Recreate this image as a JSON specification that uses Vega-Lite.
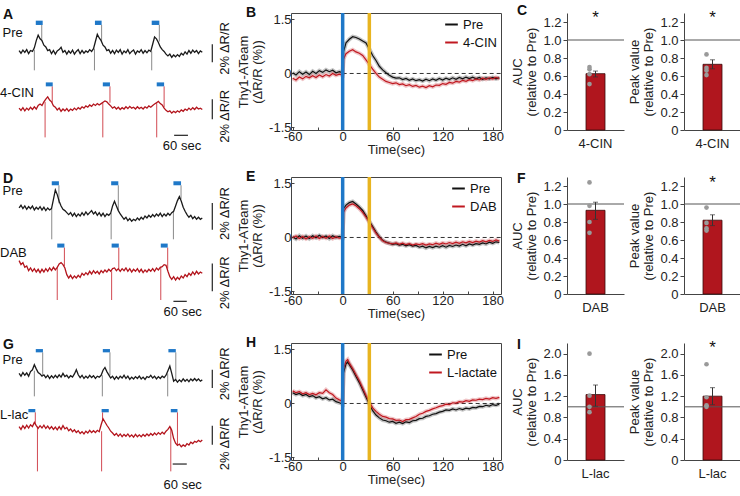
{
"$schema":"https://vega.github.io/schema/vega-lite/v6.json",
"background":"white",
"padding":{"left":0,"top":3,"right":0,"bottom":0},
"config":{
 "font":"Liberation Sans",
 "view":{"stroke":null},
 "axis":{"labelFont":"Liberation Sans","labelFontSize":13,"labelColor":"#222","titleFont":"Liberation Sans","titleFontSize":13,"titleFontWeight":"normal","titleColor":"#222","domainColor":"#444","tickColor":"#444","grid":false},
 "title":{"anchor":"start","frame":"group","fontSize":14,"fontWeight":"bold","font":"Liberation Sans","offset":-9,"baseline":"alphabetic","color":"#111"},
 "text":{"font":"Liberation Sans"}
},
"datasets":{
"trA":[{"t":0,"Pre":0.2,"4-CIN":-6.2},{"t":8,"Pre":-0.1,"4-CIN":-6.45},{"t":16,"Pre":0.25,"4-CIN":-6.15},{"t":24,"Pre":0.0,"4-CIN":-6.5},{"t":32,"Pre":0.3,"4-CIN":-6.2},{"t":40,"Pre":-0.15,"4-CIN":-6.4},{"t":48,"Pre":0.2,"4-CIN":-6.1},{"t":56,"Pre":0.1,"4-CIN":-6.35},{"t":64,"Pre":0.5,"4-CIN":-6.05},{"t":72,"Pre":1.3,"4-CIN":-6.3},{"t":80,"Pre":1.9,"4-CIN":-5.9},{"t":88,"Pre":1.5,"4-CIN":-5.75},{"t":96,"Pre":1.3,"4-CIN":-5.9},{"t":104,"Pre":0.8,"4-CIN":-5.5},{"t":112,"Pre":0.6,"4-CIN":-5.2},{"t":120,"Pre":0.2,"4-CIN":-4.95},{"t":128,"Pre":0.3,"4-CIN":-5.3},{"t":136,"Pre":-0.15,"4-CIN":-5.5},{"t":144,"Pre":0.2,"4-CIN":-5.95},{"t":152,"Pre":-0.2,"4-CIN":-6.1},{"t":160,"Pre":0.15,"4-CIN":-6.4},{"t":168,"Pre":0.3,"4-CIN":-6.2},{"t":176,"Pre":0.55,"4-CIN":-6.55},{"t":184,"Pre":0.0,"4-CIN":-6.3},{"t":192,"Pre":0.2,"4-CIN":-6.5},{"t":200,"Pre":-0.2,"4-CIN":-6.25},{"t":208,"Pre":0.15,"4-CIN":-6.55},{"t":216,"Pre":-0.1,"4-CIN":-6.3},{"t":224,"Pre":0.25,"4-CIN":-6.45},{"t":232,"Pre":-0.2,"4-CIN":-6.2},{"t":240,"Pre":0.1,"4-CIN":-6.4},{"t":248,"Pre":0.3,"4-CIN":-6.15},{"t":256,"Pre":-0.15,"4-CIN":-6.3},{"t":264,"Pre":0.2,"4-CIN":-6.05},{"t":272,"Pre":-0.1,"4-CIN":-6.2},{"t":280,"Pre":0.15,"4-CIN":-5.95},{"t":288,"Pre":0.0,"4-CIN":-6.1},{"t":296,"Pre":0.3,"4-CIN":-5.85},{"t":304,"Pre":0.1,"4-CIN":-6.0},{"t":312,"Pre":0.4,"4-CIN":-5.75},{"t":320,"Pre":1.2,"4-CIN":-5.9},{"t":328,"Pre":2.0,"4-CIN":-5.7},{"t":336,"Pre":1.6,"4-CIN":-5.85},{"t":344,"Pre":1.3,"4-CIN":-5.7},{"t":352,"Pre":0.8,"4-CIN":-5.55},{"t":360,"Pre":0.6,"4-CIN":-5.4},{"t":368,"Pre":0.2,"4-CIN":-5.5},{"t":376,"Pre":0.3,"4-CIN":-5.75},{"t":384,"Pre":-0.1,"4-CIN":-5.95},{"t":392,"Pre":0.2,"4-CIN":-6.2},{"t":400,"Pre":-0.15,"4-CIN":-6.05},{"t":408,"Pre":0.25,"4-CIN":-6.3},{"t":416,"Pre":0.0,"4-CIN":-6.1},{"t":424,"Pre":0.3,"4-CIN":-6.35},{"t":432,"Pre":-0.2,"4-CIN":-6.15},{"t":440,"Pre":0.15,"4-CIN":-6.3},{"t":448,"Pre":-0.05,"4-CIN":-6.05},{"t":456,"Pre":0.3,"4-CIN":-6.25},{"t":464,"Pre":-0.15,"4-CIN":-6.0},{"t":472,"Pre":0.1,"4-CIN":-6.2},{"t":480,"Pre":0.25,"4-CIN":-6.1},{"t":488,"Pre":-0.2,"4-CIN":-6.3},{"t":496,"Pre":0.15,"4-CIN":-6.05},{"t":504,"Pre":0.0,"4-CIN":-6.25},{"t":512,"Pre":0.3,"4-CIN":-6.1},{"t":520,"Pre":-0.1,"4-CIN":-6.3},{"t":528,"Pre":0.2,"4-CIN":-6.05},{"t":536,"Pre":-0.05,"4-CIN":-6.2},{"t":544,"Pre":0.25,"4-CIN":-5.95},{"t":552,"Pre":0.1,"4-CIN":-6.1},{"t":560,"Pre":0.9,"4-CIN":-5.9},{"t":568,"Pre":1.7,"4-CIN":-5.75},{"t":576,"Pre":1.5,"4-CIN":-5.6},{"t":584,"Pre":1.1,"4-CIN":-5.45},{"t":592,"Pre":0.6,"4-CIN":-5.7},{"t":600,"Pre":0.3,"4-CIN":-5.85},{"t":608,"Pre":0.1,"4-CIN":-6.2},{"t":616,"Pre":-0.2,"4-CIN":-6.45},{"t":624,"Pre":-0.4,"4-CIN":-6.6},{"t":632,"Pre":-0.2,"4-CIN":-6.5},{"t":640,"Pre":-0.55,"4-CIN":-6.75},{"t":648,"Pre":-0.3,"4-CIN":-6.55},{"t":656,"Pre":-0.5,"4-CIN":-6.7},{"t":664,"Pre":-0.25,"4-CIN":-6.5},{"t":672,"Pre":-0.45,"4-CIN":-6.65},{"t":680,"Pre":-0.1,"4-CIN":-6.4},{"t":688,"Pre":-0.3,"4-CIN":-6.55},{"t":696,"Pre":0.05,"4-CIN":-6.3},{"t":704,"Pre":-0.2,"4-CIN":-6.45},{"t":712,"Pre":0.2,"4-CIN":-6.2},{"t":720,"Pre":-0.1,"4-CIN":-6.4},{"t":728,"Pre":0.25,"4-CIN":-6.15},{"t":736,"Pre":0.0,"4-CIN":-6.35},{"t":744,"Pre":0.2,"4-CIN":-6.1},{"t":752,"Pre":-0.15,"4-CIN":-6.3},{"t":760,"Pre":0.15,"4-CIN":-6.2},{"t":768,"Pre":0.0,"4-CIN":-6.35}],
"trD":[{"t":0,"Pre":0.55,"DAB":-3.4},{"t":8,"Pre":0.75,"DAB":-3.7},{"t":16,"Pre":0.5,"DAB":-3.55},{"t":24,"Pre":0.7,"DAB":-3.9},{"t":32,"Pre":0.45,"DAB":-3.8},{"t":40,"Pre":0.65,"DAB":-4.15},{"t":48,"Pre":0.5,"DAB":-3.95},{"t":56,"Pre":0.7,"DAB":-4.2},{"t":64,"Pre":0.4,"DAB":-4.0},{"t":72,"Pre":0.6,"DAB":-4.25},{"t":80,"Pre":0.45,"DAB":-4.05},{"t":88,"Pre":0.65,"DAB":-4.3},{"t":96,"Pre":0.4,"DAB":-4.05},{"t":104,"Pre":0.6,"DAB":-4.25},{"t":112,"Pre":0.35,"DAB":-4.0},{"t":120,"Pre":0.55,"DAB":-4.2},{"t":128,"Pre":0.4,"DAB":-3.95},{"t":136,"Pre":0.5,"DAB":-4.15},{"t":144,"Pre":1.2,"DAB":-3.9},{"t":152,"Pre":1.9,"DAB":-4.1},{"t":160,"Pre":1.55,"DAB":-3.9},{"t":168,"Pre":1.05,"DAB":-3.65},{"t":176,"Pre":0.7,"DAB":-3.55},{"t":184,"Pre":0.45,"DAB":-3.7},{"t":192,"Pre":0.35,"DAB":-3.95},{"t":200,"Pre":0.2,"DAB":-4.45},{"t":208,"Pre":0.05,"DAB":-4.7},{"t":216,"Pre":0.2,"DAB":-4.5},{"t":224,"Pre":-0.05,"DAB":-4.75},{"t":232,"Pre":0.15,"DAB":-4.55},{"t":240,"Pre":-0.1,"DAB":-4.7},{"t":248,"Pre":0.1,"DAB":-4.5},{"t":256,"Pre":-0.05,"DAB":-4.65},{"t":264,"Pre":0.2,"DAB":-4.35},{"t":272,"Pre":0.0,"DAB":-4.5},{"t":280,"Pre":0.25,"DAB":-4.3},{"t":288,"Pre":0.05,"DAB":-4.45},{"t":296,"Pre":0.2,"DAB":-4.2},{"t":304,"Pre":0.35,"DAB":-4.4},{"t":312,"Pre":0.1,"DAB":-4.15},{"t":320,"Pre":0.25,"DAB":-4.35},{"t":328,"Pre":0.0,"DAB":-4.2},{"t":336,"Pre":0.2,"DAB":-4.4},{"t":344,"Pre":-0.05,"DAB":-4.15},{"t":352,"Pre":0.15,"DAB":-4.3},{"t":360,"Pre":-0.1,"DAB":-4.1},{"t":368,"Pre":0.1,"DAB":-4.25},{"t":376,"Pre":0.0,"DAB":-4.05},{"t":384,"Pre":0.15,"DAB":-4.2},{"t":392,"Pre":0.7,"DAB":-4.0},{"t":400,"Pre":1.05,"DAB":-3.95},{"t":408,"Pre":0.7,"DAB":-4.15},{"t":416,"Pre":0.35,"DAB":-4.0},{"t":424,"Pre":0.1,"DAB":-4.2},{"t":432,"Pre":-0.1,"DAB":-4.0},{"t":440,"Pre":-0.3,"DAB":-4.15},{"t":448,"Pre":-0.15,"DAB":-3.95},{"t":456,"Pre":-0.4,"DAB":-4.2},{"t":464,"Pre":-0.25,"DAB":-4.0},{"t":472,"Pre":-0.45,"DAB":-4.25},{"t":480,"Pre":-0.3,"DAB":-4.05},{"t":488,"Pre":-0.4,"DAB":-4.2},{"t":496,"Pre":-0.2,"DAB":-4.0},{"t":504,"Pre":-0.35,"DAB":-4.25},{"t":512,"Pre":-0.15,"DAB":-4.05},{"t":520,"Pre":-0.3,"DAB":-4.3},{"t":528,"Pre":-0.05,"DAB":-4.1},{"t":536,"Pre":-0.2,"DAB":-4.25},{"t":544,"Pre":0.0,"DAB":-4.05},{"t":552,"Pre":-0.15,"DAB":-4.2},{"t":560,"Pre":0.05,"DAB":-4.0},{"t":568,"Pre":-0.1,"DAB":-4.2},{"t":576,"Pre":0.1,"DAB":-3.95},{"t":584,"Pre":-0.05,"DAB":-4.1},{"t":592,"Pre":0.15,"DAB":-3.9},{"t":600,"Pre":-0.1,"DAB":-3.85},{"t":608,"Pre":0.1,"DAB":-3.7},{"t":616,"Pre":-0.05,"DAB":-3.75},{"t":624,"Pre":0.15,"DAB":-4.2},{"t":632,"Pre":0.0,"DAB":-4.6},{"t":640,"Pre":0.2,"DAB":-4.8},{"t":648,"Pre":0.3,"DAB":-4.6},{"t":656,"Pre":0.7,"DAB":-4.85},{"t":664,"Pre":1.1,"DAB":-4.65},{"t":672,"Pre":1.4,"DAB":-4.8},{"t":680,"Pre":1.05,"DAB":-4.55},{"t":688,"Pre":0.6,"DAB":-4.7},{"t":696,"Pre":0.3,"DAB":-4.45},{"t":704,"Pre":0.05,"DAB":-4.6},{"t":712,"Pre":-0.15,"DAB":-4.35},{"t":720,"Pre":0.0,"DAB":-4.5},{"t":728,"Pre":-0.25,"DAB":-4.25},{"t":736,"Pre":-0.1,"DAB":-4.45},{"t":744,"Pre":-0.3,"DAB":-4.2},{"t":752,"Pre":-0.15,"DAB":-4.4},{"t":760,"Pre":-0.3,"DAB":-4.25},{"t":768,"Pre":-0.2,"DAB":-4.35}],
"trG":[{"t":0,"Pre":0.5,"L-lac":-5.3},{"t":8,"Pre":0.2,"L-lac":-5.6},{"t":16,"Pre":0.6,"L-lac":-5.2},{"t":24,"Pre":0.3,"L-lac":-5.5},{"t":32,"Pre":0.55,"L-lac":-5.15},{"t":40,"Pre":0.2,"L-lac":-5.45},{"t":48,"Pre":0.7,"L-lac":-5.1},{"t":56,"Pre":0.9,"L-lac":-5.3},{"t":64,"Pre":1.45,"L-lac":-4.85},{"t":72,"Pre":1.0,"L-lac":-5.2},{"t":80,"Pre":0.6,"L-lac":-5.5},{"t":88,"Pre":0.45,"L-lac":-5.2},{"t":96,"Pre":0.2,"L-lac":-5.45},{"t":104,"Pre":0.35,"L-lac":-5.15},{"t":112,"Pre":0.05,"L-lac":-5.5},{"t":120,"Pre":0.3,"L-lac":-5.25},{"t":128,"Pre":-0.05,"L-lac":-5.55},{"t":136,"Pre":0.25,"L-lac":-5.3},{"t":144,"Pre":0.0,"L-lac":-5.6},{"t":152,"Pre":0.3,"L-lac":-5.35},{"t":160,"Pre":0.05,"L-lac":-5.65},{"t":168,"Pre":0.35,"L-lac":-5.3},{"t":176,"Pre":0.1,"L-lac":-5.6},{"t":184,"Pre":0.5,"L-lac":-5.2},{"t":192,"Pre":0.15,"L-lac":-5.55},{"t":200,"Pre":0.3,"L-lac":-5.4},{"t":208,"Pre":0.0,"L-lac":-5.75},{"t":216,"Pre":0.25,"L-lac":-5.55},{"t":224,"Pre":0.1,"L-lac":-5.85},{"t":232,"Pre":0.45,"L-lac":-5.65},{"t":240,"Pre":0.9,"L-lac":-5.95},{"t":248,"Pre":0.35,"L-lac":-5.75},{"t":256,"Pre":0.05,"L-lac":-6.05},{"t":264,"Pre":0.3,"L-lac":-5.85},{"t":272,"Pre":-0.05,"L-lac":-6.1},{"t":280,"Pre":0.2,"L-lac":-5.8},{"t":288,"Pre":0.0,"L-lac":-6.0},{"t":296,"Pre":0.3,"L-lac":-5.7},{"t":304,"Pre":0.05,"L-lac":-5.95},{"t":312,"Pre":0.25,"L-lac":-5.75},{"t":320,"Pre":-0.05,"L-lac":-5.95},{"t":328,"Pre":0.2,"L-lac":-5.7},{"t":336,"Pre":0.1,"L-lac":-5.85},{"t":344,"Pre":0.3,"L-lac":-5.1},{"t":352,"Pre":0.85,"L-lac":-4.45},{"t":360,"Pre":1.15,"L-lac":-4.8},{"t":368,"Pre":0.7,"L-lac":-5.15},{"t":376,"Pre":0.35,"L-lac":-5.45},{"t":384,"Pre":0.0,"L-lac":-5.8},{"t":392,"Pre":0.2,"L-lac":-6.0},{"t":400,"Pre":-0.15,"L-lac":-6.25},{"t":408,"Pre":0.15,"L-lac":-6.05},{"t":416,"Pre":-0.1,"L-lac":-6.35},{"t":424,"Pre":0.2,"L-lac":-6.1},{"t":432,"Pre":0.0,"L-lac":-6.4},{"t":440,"Pre":0.3,"L-lac":-6.15},{"t":448,"Pre":-0.05,"L-lac":-6.35},{"t":456,"Pre":0.2,"L-lac":-6.1},{"t":464,"Pre":-0.15,"L-lac":-6.4},{"t":472,"Pre":0.1,"L-lac":-6.2},{"t":480,"Pre":-0.1,"L-lac":-6.45},{"t":488,"Pre":0.15,"L-lac":-6.15},{"t":496,"Pre":-0.05,"L-lac":-6.4},{"t":504,"Pre":0.2,"L-lac":-6.2},{"t":512,"Pre":-0.1,"L-lac":-6.4},{"t":520,"Pre":0.1,"L-lac":-6.15},{"t":528,"Pre":-0.15,"L-lac":-6.35},{"t":536,"Pre":0.15,"L-lac":-6.1},{"t":544,"Pre":0.05,"L-lac":-6.3},{"t":552,"Pre":0.3,"L-lac":-6.05},{"t":560,"Pre":0.0,"L-lac":-6.25},{"t":568,"Pre":0.2,"L-lac":-6.0},{"t":576,"Pre":-0.1,"L-lac":-6.2},{"t":584,"Pre":0.15,"L-lac":-5.95},{"t":592,"Pre":-0.05,"L-lac":-6.15},{"t":600,"Pre":0.2,"L-lac":-5.9},{"t":608,"Pre":0.05,"L-lac":-6.1},{"t":616,"Pre":0.3,"L-lac":-5.8},{"t":624,"Pre":0.8,"L-lac":-5.6},{"t":632,"Pre":1.3,"L-lac":-5.3},{"t":640,"Pre":0.5,"L-lac":-5.7},{"t":648,"Pre":-0.35,"L-lac":-6.6},{"t":656,"Pre":-0.15,"L-lac":-7.1},{"t":664,"Pre":-0.45,"L-lac":-7.35},{"t":672,"Pre":-0.2,"L-lac":-7.2},{"t":680,"Pre":-0.4,"L-lac":-7.5},{"t":688,"Pre":-0.1,"L-lac":-7.3},{"t":696,"Pre":-0.35,"L-lac":-7.45},{"t":704,"Pre":-0.15,"L-lac":-7.15},{"t":712,"Pre":-0.4,"L-lac":-7.3},{"t":720,"Pre":-0.1,"L-lac":-7.0},{"t":728,"Pre":-0.3,"L-lac":-7.15},{"t":736,"Pre":-0.05,"L-lac":-6.9},{"t":744,"Pre":-0.3,"L-lac":-7.0},{"t":752,"Pre":-0.1,"L-lac":-6.8},{"t":760,"Pre":-0.35,"L-lac":-6.95},{"t":768,"Pre":-0.2,"L-lac":-6.75}],
"mB":[{"t":-60,"Pre":0.02,"4-CIN":-0.13},{"t":-56,"Pre":-0.04,"4-CIN":-0.18},{"t":-52,"Pre":0.05,"4-CIN":-0.1},{"t":-48,"Pre":-0.02,"4-CIN":-0.15},{"t":-44,"Pre":0.04,"4-CIN":-0.08},{"t":-40,"Pre":-0.03,"4-CIN":-0.12},{"t":-36,"Pre":0.06,"4-CIN":-0.06},{"t":-32,"Pre":0.0,"4-CIN":-0.11},{"t":-28,"Pre":0.08,"4-CIN":-0.04},{"t":-24,"Pre":0.03,"4-CIN":-0.09},{"t":-20,"Pre":0.1,"4-CIN":-0.03},{"t":-16,"Pre":0.05,"4-CIN":-0.07},{"t":-12,"Pre":0.09,"4-CIN":0.0},{"t":-8,"Pre":0.02,"4-CIN":-0.05},{"t":-4,"Pre":0.05,"4-CIN":-0.02},{"t":0,"Pre":0.02,"4-CIN":-0.05},{"t":1,"Pre":0.6,"4-CIN":0.4},{"t":4,"Pre":0.85,"4-CIN":0.55},{"t":8,"Pre":0.95,"4-CIN":0.62},{"t":12,"Pre":1.02,"4-CIN":0.66},{"t":16,"Pre":1.0,"4-CIN":0.6},{"t":20,"Pre":0.96,"4-CIN":0.56},{"t":24,"Pre":0.9,"4-CIN":0.5},{"t":28,"Pre":0.85,"4-CIN":0.38},{"t":32,"Pre":0.68,"4-CIN":0.25},{"t":36,"Pre":0.5,"4-CIN":0.12},{"t":40,"Pre":0.36,"4-CIN":0.0},{"t":44,"Pre":0.2,"4-CIN":-0.1},{"t":48,"Pre":0.1,"4-CIN":-0.16},{"t":52,"Pre":0.02,"4-CIN":-0.22},{"t":56,"Pre":-0.05,"4-CIN":-0.25},{"t":60,"Pre":-0.1,"4-CIN":-0.28},{"t":64,"Pre":-0.13,"4-CIN":-0.26},{"t":68,"Pre":-0.12,"4-CIN":-0.31},{"t":72,"Pre":-0.17,"4-CIN":-0.29},{"t":76,"Pre":-0.14,"4-CIN":-0.34},{"t":80,"Pre":-0.19,"4-CIN":-0.31},{"t":84,"Pre":-0.15,"4-CIN":-0.36},{"t":88,"Pre":-0.2,"4-CIN":-0.33},{"t":92,"Pre":-0.17,"4-CIN":-0.38},{"t":96,"Pre":-0.21,"4-CIN":-0.35},{"t":100,"Pre":-0.16,"4-CIN":-0.39},{"t":104,"Pre":-0.2,"4-CIN":-0.34},{"t":108,"Pre":-0.15,"4-CIN":-0.37},{"t":112,"Pre":-0.19,"4-CIN":-0.32},{"t":116,"Pre":-0.14,"4-CIN":-0.33},{"t":120,"Pre":-0.18,"4-CIN":-0.28},{"t":124,"Pre":-0.13,"4-CIN":-0.3},{"t":128,"Pre":-0.17,"4-CIN":-0.25},{"t":132,"Pre":-0.12,"4-CIN":-0.27},{"t":136,"Pre":-0.16,"4-CIN":-0.22},{"t":140,"Pre":-0.11,"4-CIN":-0.24},{"t":144,"Pre":-0.15,"4-CIN":-0.19},{"t":148,"Pre":-0.1,"4-CIN":-0.22},{"t":152,"Pre":-0.14,"4-CIN":-0.17},{"t":156,"Pre":-0.1,"4-CIN":-0.2},{"t":160,"Pre":-0.15,"4-CIN":-0.15},{"t":164,"Pre":-0.11,"4-CIN":-0.18},{"t":168,"Pre":-0.16,"4-CIN":-0.13},{"t":172,"Pre":-0.12,"4-CIN":-0.16},{"t":176,"Pre":-0.15,"4-CIN":-0.12},{"t":180,"Pre":-0.11,"4-CIN":-0.15},{"t":184,"Pre":-0.15,"4-CIN":-0.11},{"t":188,"Pre":-0.12,"4-CIN":-0.14}],
"mE":[{"t":-60,"Pre":0.02,"DAB":-0.01},{"t":-56,"Pre":-0.04,"DAB":0.04},{"t":-52,"Pre":0.05,"DAB":-0.03},{"t":-48,"Pre":-0.02,"DAB":0.03},{"t":-44,"Pre":0.04,"DAB":-0.04},{"t":-40,"Pre":-0.03,"DAB":0.02},{"t":-36,"Pre":0.05,"DAB":-0.02},{"t":-32,"Pre":-0.01,"DAB":0.04},{"t":-28,"Pre":0.06,"DAB":-0.03},{"t":-24,"Pre":0.0,"DAB":0.03},{"t":-20,"Pre":0.04,"DAB":-0.02},{"t":-16,"Pre":-0.03,"DAB":0.04},{"t":-12,"Pre":0.05,"DAB":-0.03},{"t":-8,"Pre":0.0,"DAB":0.02},{"t":-4,"Pre":0.03,"DAB":-0.02},{"t":0,"Pre":0.0,"DAB":0.0},{"t":1,"Pre":0.8,"DAB":0.7},{"t":4,"Pre":0.9,"DAB":0.82},{"t":8,"Pre":0.97,"DAB":0.9},{"t":12,"Pre":1.0,"DAB":0.93},{"t":16,"Pre":0.93,"DAB":0.88},{"t":20,"Pre":0.85,"DAB":0.8},{"t":24,"Pre":0.75,"DAB":0.7},{"t":28,"Pre":0.6,"DAB":0.57},{"t":32,"Pre":0.45,"DAB":0.42},{"t":36,"Pre":0.3,"DAB":0.27},{"t":40,"Pre":0.15,"DAB":0.12},{"t":44,"Pre":0.02,"DAB":0.0},{"t":48,"Pre":-0.08,"DAB":-0.09},{"t":52,"Pre":-0.13,"DAB":-0.14},{"t":56,"Pre":-0.16,"DAB":-0.16},{"t":60,"Pre":-0.19,"DAB":-0.18},{"t":64,"Pre":-0.17,"DAB":-0.15},{"t":68,"Pre":-0.21,"DAB":-0.19},{"t":72,"Pre":-0.19,"DAB":-0.16},{"t":76,"Pre":-0.23,"DAB":-0.2},{"t":80,"Pre":-0.2,"DAB":-0.17},{"t":84,"Pre":-0.24,"DAB":-0.21},{"t":88,"Pre":-0.22,"DAB":-0.18},{"t":92,"Pre":-0.27,"DAB":-0.2},{"t":96,"Pre":-0.24,"DAB":-0.17},{"t":100,"Pre":-0.29,"DAB":-0.21},{"t":104,"Pre":-0.25,"DAB":-0.18},{"t":108,"Pre":-0.28,"DAB":-0.2},{"t":112,"Pre":-0.24,"DAB":-0.16},{"t":116,"Pre":-0.27,"DAB":-0.19},{"t":120,"Pre":-0.23,"DAB":-0.15},{"t":124,"Pre":-0.27,"DAB":-0.18},{"t":128,"Pre":-0.22,"DAB":-0.14},{"t":132,"Pre":-0.25,"DAB":-0.17},{"t":136,"Pre":-0.21,"DAB":-0.13},{"t":140,"Pre":-0.24,"DAB":-0.16},{"t":144,"Pre":-0.19,"DAB":-0.12},{"t":148,"Pre":-0.23,"DAB":-0.15},{"t":152,"Pre":-0.18,"DAB":-0.11},{"t":156,"Pre":-0.21,"DAB":-0.14},{"t":160,"Pre":-0.17,"DAB":-0.1},{"t":164,"Pre":-0.19,"DAB":-0.13},{"t":168,"Pre":-0.15,"DAB":-0.09},{"t":172,"Pre":-0.18,"DAB":-0.12},{"t":176,"Pre":-0.13,"DAB":-0.08},{"t":180,"Pre":-0.16,"DAB":-0.11},{"t":184,"Pre":-0.12,"DAB":-0.07},{"t":188,"Pre":-0.14,"DAB":-0.1}],
"mH":[{"t":-60,"Pre":0.3,"L-lactate":0.35},{"t":-56,"Pre":0.25,"L-lactate":0.3},{"t":-52,"Pre":0.28,"L-lactate":0.33},{"t":-48,"Pre":0.22,"L-lactate":0.27},{"t":-44,"Pre":0.25,"L-lactate":0.3},{"t":-40,"Pre":0.19,"L-lactate":0.25},{"t":-36,"Pre":0.22,"L-lactate":0.28},{"t":-32,"Pre":0.16,"L-lactate":0.24},{"t":-28,"Pre":0.19,"L-lactate":0.3},{"t":-24,"Pre":0.13,"L-lactate":0.28},{"t":-20,"Pre":0.16,"L-lactate":0.38},{"t":-16,"Pre":0.1,"L-lactate":0.3},{"t":-12,"Pre":0.12,"L-lactate":0.25},{"t":-8,"Pre":0.05,"L-lactate":0.15},{"t":-4,"Pre":0.02,"L-lactate":0.1},{"t":0,"Pre":-0.02,"L-lactate":0.06},{"t":1,"Pre":0.85,"L-lactate":0.95},{"t":4,"Pre":1.1,"L-lactate":1.18},{"t":6,"Pre":1.15,"L-lactate":1.22},{"t":8,"Pre":1.08,"L-lactate":1.12},{"t":12,"Pre":0.93,"L-lactate":0.97},{"t":16,"Pre":0.75,"L-lactate":0.8},{"t":20,"Pre":0.58,"L-lactate":0.63},{"t":24,"Pre":0.38,"L-lactate":0.43},{"t":28,"Pre":0.18,"L-lactate":0.22},{"t":32,"Pre":-0.02,"L-lactate":0.04},{"t":36,"Pre":-0.2,"L-lactate":-0.12},{"t":40,"Pre":-0.32,"L-lactate":-0.22},{"t":44,"Pre":-0.4,"L-lactate":-0.3},{"t":48,"Pre":-0.46,"L-lactate":-0.36},{"t":52,"Pre":-0.48,"L-lactate":-0.38},{"t":56,"Pre":-0.52,"L-lactate":-0.42},{"t":60,"Pre":-0.5,"L-lactate":-0.43},{"t":64,"Pre":-0.55,"L-lactate":-0.47},{"t":68,"Pre":-0.52,"L-lactate":-0.46},{"t":72,"Pre":-0.56,"L-lactate":-0.5},{"t":76,"Pre":-0.51,"L-lactate":-0.45},{"t":80,"Pre":-0.53,"L-lactate":-0.44},{"t":84,"Pre":-0.48,"L-lactate":-0.4},{"t":88,"Pre":-0.47,"L-lactate":-0.36},{"t":92,"Pre":-0.42,"L-lactate":-0.3},{"t":96,"Pre":-0.41,"L-lactate":-0.27},{"t":100,"Pre":-0.36,"L-lactate":-0.22},{"t":104,"Pre":-0.34,"L-lactate":-0.19},{"t":108,"Pre":-0.3,"L-lactate":-0.15},{"t":112,"Pre":-0.28,"L-lactate":-0.12},{"t":116,"Pre":-0.24,"L-lactate":-0.08},{"t":120,"Pre":-0.22,"L-lactate":-0.06},{"t":124,"Pre":-0.18,"L-lactate":-0.02},{"t":128,"Pre":-0.19,"L-lactate":-0.03},{"t":132,"Pre":-0.15,"L-lactate":0.02},{"t":136,"Pre":-0.18,"L-lactate":0.01},{"t":140,"Pre":-0.14,"L-lactate":0.05},{"t":144,"Pre":-0.17,"L-lactate":0.04},{"t":148,"Pre":-0.13,"L-lactate":0.08},{"t":152,"Pre":-0.15,"L-lactate":0.06},{"t":156,"Pre":-0.11,"L-lactate":0.1},{"t":160,"Pre":-0.12,"L-lactate":0.09},{"t":164,"Pre":-0.08,"L-lactate":0.12},{"t":168,"Pre":-0.09,"L-lactate":0.11},{"t":172,"Pre":-0.05,"L-lactate":0.14},{"t":176,"Pre":-0.07,"L-lactate":0.12},{"t":180,"Pre":-0.03,"L-lactate":0.16},{"t":184,"Pre":-0.05,"L-lactate":0.14},{"t":188,"Pre":-0.02,"L-lactate":0.17}]
},
"spacing":12,
"resolve":{"scale":{"color":"independent"},"legend":{"color":"independent"}},
"vconcat":[
{"hconcat":[
 {"title":{"text":"A","dx":3},"width":234,"height":117,
  "resolve":{"scale":{"color":"independent"}},
  "layer":[
   {"data":{"values":[{"s":"Pre","t":64,"y1":0.3,"y2":-2.0},{"s":"Pre","t":95,"y1":1.3,"y2":3.05},{"s":"Pre","t":316,"y1":0.4,"y2":-2.0},{"s":"Pre","t":346,"y1":1.3,"y2":3.05},{"s":"Pre","t":556,"y1":0.1,"y2":-2.0},{"s":"Pre","t":588,"y1":1.2,"y2":3.05},{"s":"4-CIN","t":109,"y1":-5.5,"y2":-9.45},{"s":"4-CIN","t":139,"y1":-5.6,"y2":-3.78},{"s":"4-CIN","t":351,"y1":-5.6,"y2":-9.45},{"s":"4-CIN","t":381,"y1":-5.6,"y2":-3.78},{"s":"4-CIN","t":577,"y1":-5.6,"y2":-9.45},{"s":"4-CIN","t":608,"y1":-6.1,"y2":-3.78}]},
    "mark":{"type":"rule","strokeWidth":1},
    "encoding":{"x":{"field":"t","type":"quantitative","scale":{"domain":[-80,901],"nice":false,"zero":false},"axis":null},"y":{"field":"y1","type":"quantitative","scale":{"domain":[-8.63,4.37],"nice":false,"zero":false},"axis":null},"y2":{"field":"y2"},"color":{"field":"s","type":"nominal","scale":{"domain":["Pre","4-CIN"],"range":["#8a8a8a","#d24a52"]},"legend":null}}},
   {"data":{"name":"trA"},"transform":[{"fold":["Pre","4-CIN"],"as":["s","v"]}],
    "mark":{"type":"line","strokeWidth":1.3},
    "encoding":{"x":{"field":"t","type":"quantitative","scale":{"domain":[-80,901],"nice":false,"zero":false},"axis":null},"y":{"field":"v","type":"quantitative","scale":{"domain":[-8.63,4.37],"nice":false,"zero":false},"axis":null},"color":{"field":"s","type":"nominal","scale":{"domain":["Pre","4-CIN"],"range":["#1a1a1a","#b3141c"]},"legend":null}}},
   {"data":{"values":[{"t":70,"t2":99,"y1":3.04,"y2":3.52},{"t":318,"t2":346,"y1":3.04,"y2":3.52},{"t":556,"t2":588,"y1":3.04,"y2":3.52},{"t":112,"t2":141,"y1":-3.78,"y2":-3.34},{"t":351,"t2":381,"y1":-3.78,"y2":-3.34},{"t":577,"t2":608,"y1":-3.78,"y2":-3.34}]},
    "mark":{"type":"rect","color":"#1f78c8"},
    "encoding":{"x":{"field":"t","type":"quantitative"},"x2":{"field":"t2"},"y":{"field":"y1","type":"quantitative"},"y2":{"field":"y2"}}},
   {"data":{"values":[{"t":810,"t2":810,"y1":0.89,"y2":-1.11},{"t":810,"t2":810,"y1":-5.22,"y2":-7.44},{"t":650,"t2":708,"y1":-9.22,"y2":-9.22}]},
    "mark":{"type":"rule","color":"#222","strokeWidth":1.2},
    "encoding":{"x":{"field":"t","type":"quantitative"},"x2":{"field":"t2"},"y":{"field":"y1","type":"quantitative"},"y2":{"field":"y2"}}},
   {"data":{"values":[{"t":-69,"y":2.11,"label":"Pre"},{"t":-80,"y":-4.56,"label":"4-CIN"}]},
    "mark":{"type":"text","align":"left","baseline":"middle","fontSize":13,"color":"#111"},
    "encoding":{"x":{"field":"t","type":"quantitative"},"y":{"field":"y","type":"quantitative"},"text":{"field":"label"}}},
   {"data":{"values":[{"t":683,"y":-10.44,"label":"60 sec"}]},
    "mark":{"type":"text","align":"center","baseline":"middle","fontSize":13,"color":"#111"},
    "encoding":{"x":{"field":"t","type":"quantitative"},"y":{"field":"y","type":"quantitative"},"text":{"field":"label"}}},
   {"data":{"values":[{"t":863,"y":0.44,"label":"2% ΔR/R"},{"t":863,"y":-7.11,"label":"2% ΔR/R"}]},
    "mark":{"type":"text","align":"center","baseline":"middle","angle":270,"fontSize":13,"color":"#111"},
    "encoding":{"x":{"field":"t","type":"quantitative"},"y":{"field":"y","type":"quantitative"},"text":{"field":"label"}}}
  ]},
 {"title":{"text":"B","dx":-45},"width":210,"height":117,"view":{"stroke":"#444","strokeWidth":1},
  "layer":[
   {"data":{"values":[{"t":0,"t2":190,"v":0}]},"mark":{"type":"rule","strokeDash":[4,3],"color":"#333","strokeWidth":1},
    "encoding":{"x":{"field":"t","type":"quantitative","scale":{"domain":[-62,190],"nice":false,"zero":false}},"x2":{"field":"t2"},"y":{"field":"v","type":"quantitative","scale":{"domain":[-1.57,1.68],"nice":false,"zero":false}}}},
   {"data":{"name":"mB"},"mark":{"type":"line","strokeWidth":4,"opacity":0.25,"color":"#111111"},
    "encoding":{"x":{"field":"t","type":"quantitative","scale":{"domain":[-62,190],"nice":false,"zero":false}},"y":{"field":"Pre","type":"quantitative","scale":{"domain":[-1.57,1.68],"nice":false,"zero":false}}}},
   {"data":{"name":"mB"},"mark":{"type":"line","strokeWidth":4,"opacity":0.25,"color":"#c01820"},
    "encoding":{"x":{"field":"t","type":"quantitative","scale":{"domain":[-62,190],"nice":false,"zero":false}},"y":{"field":"4-CIN","type":"quantitative","scale":{"domain":[-1.57,1.68],"nice":false,"zero":false}}}},
   {"data":{"name":"mB"},"transform":[{"fold":["Pre","4-CIN"],"as":["s","v"]}],"mark":{"type":"line","strokeWidth":1.2},
    "encoding":{"x":{"field":"t","type":"quantitative","scale":{"domain":[-62,190],"nice":false,"zero":false},"axis":{"title":"Time(sec)","values":[-60,-30,0,30,60,90,120,150,180],"tickCount":12,"labelExpr":"datum.value % 60 == 0 ? replace(format(datum.value,'d'),'−','-') : ''","tickSize":-3,"domain":false,"labelPadding":3,"titlePadding":0,"labelFlush":false,"labelOverlap":false}},
     "y":{"field":"v","type":"quantitative","scale":{"domain":[-1.57,1.68],"nice":false,"zero":false},"axis":{"title":["Thy1-ATeam","(ΔR/R (%))"],"values":[-1.5,0,1.5],"tickCount":5,"labelExpr":"datum.value == 0 ? '0' : replace(format(datum.value,'.1f'),'−','-')","tickSize":-3,"domain":false,"labelPadding":3,"titlePadding":4,"titleLineHeight":14,"labelOverlap":false}},
     "color":{"field":"s","type":"nominal","scale":{"domain":["Pre","4-CIN"],"range":["#111111","#c01820"]},"legend":{"orient":"top-right","offset":4,"title":null,"symbolType":"stroke","symbolStrokeWidth":2,"symbolSize":160,"symbolOpacity":1,"labelFontSize":13,"labelFont":"Liberation Sans","labelColor":"#111","rowPadding":3,"padding":0,"labelOffset":4}}}},
   {"data":{"values":[{"t":0}]},"mark":{"type":"rule","color":"#1f78c8","strokeWidth":3.5},"encoding":{"x":{"field":"t","type":"quantitative"}}},
   {"data":{"values":[{"t":32}]},"mark":{"type":"rule","color":"#e8b420","strokeWidth":3.5},"encoding":{"x":{"field":"t","type":"quantitative"}}}
  ]},
 {"title":{"text":"C","dx":-50},"width":57,"height":117,
  "layer":[
   {"data":{"values":[{"g":"4-CIN","m":0.626}]},"mark":{"type":"bar","color":"#b0161e","stroke":"#3a0a0a","strokeWidth":0.8,"size":19},
    "encoding":{"x":{"field":"g","type":"nominal","axis":{"title":null,"ticks":false,"labelPadding":7,"labelAngle":0}},"y":{"field":"m","type":"quantitative","scale":{"domain":[0,1.3],"nice":false},"axis":{"title":["AUC","(relative to Pre)"],"values":[0,0.2,0.4,0.6,0.8,1.0,1.2],"tickCount":10,"labelExpr":"datum.value == 0 ? '0' : format(datum.value,'.1f')","labelOverlap":false,"labelBound":false,"tickSize":4,"labelPadding":2,"titlePadding":4,"titleLineHeight":14}}}},
   {"data":{"values":[{"g":"4-CIN","r":1}]},"mark":{"type":"rule","color":"#555","strokeWidth":1},"encoding":{"y":{"field":"r","type":"quantitative"}}},
   {"data":{"values":[{"g":"4-CIN","val":0.70},{"g":"4-CIN","val":0.674},{"g":"4-CIN","val":0.62},{"g":"4-CIN","val":0.51}]},"mark":{"type":"circle","size":22,"color":"#9a9a9a","opacity":1,"xOffset":-6},"encoding":{"x":{"field":"g","type":"nominal"},"y":{"field":"val","type":"quantitative"}}},
   {"data":{"values":[{"g":"4-CIN","lo":0.59,"hi":0.655}]},"mark":{"type":"rule","color":"#333","strokeWidth":1},"encoding":{"x":{"field":"g","type":"nominal"},"y":{"field":"lo","type":"quantitative"},"y2":{"field":"hi"}}},
   {"data":{"values":[{"g":"4-CIN","e":0.59},{"g":"4-CIN","e":0.655}]},"mark":{"type":"tick","color":"#333","size":5,"thickness":1},"encoding":{"x":{"field":"g","type":"nominal"},"y":{"field":"e","type":"quantitative"}}},
   {"data":{"values":[{"g":"4-CIN","star":1.25}]},"mark":{"type":"text","text":"*","fontSize":17,"align":"center","baseline":"middle","color":"#111"},"encoding":{"x":{"field":"g","type":"nominal"},"y":{"field":"star","type":"quantitative"}}}
  ]},
 {"title":{"text":" "},"width":57,"height":117,
  "layer":[
   {"data":{"values":[{"g":"4-CIN","m":0.73}]},"mark":{"type":"bar","color":"#b0161e","stroke":"#3a0a0a","strokeWidth":0.8,"size":19},
    "encoding":{"x":{"field":"g","type":"nominal","axis":{"title":null,"ticks":false,"labelPadding":7,"labelAngle":0}},"y":{"field":"m","type":"quantitative","scale":{"domain":[0,1.3],"nice":false},"axis":{"title":["Peak value","(relative to Pre)"],"values":[0,0.2,0.4,0.6,0.8,1.0,1.2],"tickCount":10,"labelExpr":"datum.value == 0 ? '0' : format(datum.value,'.1f')","labelOverlap":false,"labelBound":false,"tickSize":4,"labelPadding":2,"titlePadding":4,"titleLineHeight":14}}}},
   {"data":{"values":[{"g":"4-CIN","r":1}]},"mark":{"type":"rule","color":"#555","strokeWidth":1},"encoding":{"y":{"field":"r","type":"quantitative"}}},
   {"data":{"values":[{"g":"4-CIN","val":0.84},{"g":"4-CIN","val":0.69},{"g":"4-CIN","val":0.66},{"g":"4-CIN","val":0.61}]},"mark":{"type":"circle","size":22,"color":"#9a9a9a","opacity":1,"xOffset":-6},"encoding":{"x":{"field":"g","type":"nominal"},"y":{"field":"val","type":"quantitative"}}},
   {"data":{"values":[{"g":"4-CIN","lo":0.68,"hi":0.78}]},"mark":{"type":"rule","color":"#333","strokeWidth":1},"encoding":{"x":{"field":"g","type":"nominal"},"y":{"field":"lo","type":"quantitative"},"y2":{"field":"hi"}}},
   {"data":{"values":[{"g":"4-CIN","e":0.68},{"g":"4-CIN","e":0.78}]},"mark":{"type":"tick","color":"#333","size":5,"thickness":1},"encoding":{"x":{"field":"g","type":"nominal"},"y":{"field":"e","type":"quantitative"}}},
   {"data":{"values":[{"g":"4-CIN","star":1.25}]},"mark":{"type":"text","text":"*","fontSize":17,"align":"center","baseline":"middle","color":"#111"},"encoding":{"x":{"field":"g","type":"nominal"},"y":{"field":"star","type":"quantitative"}}}
  ]}
 ],"spacing":3,"resolve":{"scale":{"color":"independent"},"legend":{"color":"independent"}}},
{"hconcat":[
 {"title":{"text":"D","dx":3},"width":234,"height":117,
  "resolve":{"scale":{"color":"independent"}},
  "layer":[
   {"data":{"values":[{"s":"Pre","t":137,"y1":0.5,"y2":-1.8},{"s":"Pre","t":167,"y1":0.9,"y2":2.25},{"s":"Pre","t":386,"y1":0.15,"y2":-1.8},{"s":"Pre","t":416,"y1":0.35,"y2":2.25},{"s":"Pre","t":647,"y1":0.3,"y2":-1.8},{"s":"Pre","t":679,"y1":1.2,"y2":2.25},{"s":"DAB","t":160,"y1":-3.9,"y2":-6.35},{"s":"DAB","t":190,"y1":-3.8,"y2":-2.42},{"s":"DAB","t":388,"y1":-4.2,"y2":-6.35},{"s":"DAB","t":418,"y1":-4.0,"y2":-2.42},{"s":"DAB","t":594,"y1":-3.9,"y2":-6.35},{"s":"DAB","t":623,"y1":-4.0,"y2":-2.42}]},
    "mark":{"type":"rule","strokeWidth":1},
    "encoding":{"x":{"field":"t","type":"quantitative","scale":{"domain":[-80,901],"nice":false,"zero":false},"axis":null},"y":{"field":"y1","type":"quantitative","scale":{"domain":[-5.9,2.87],"nice":false,"zero":false},"axis":null},"y2":{"field":"y2"},"color":{"field":"s","type":"nominal","scale":{"domain":["Pre","DAB"],"range":["#8a8a8a","#d24a52"]},"legend":null}}},
   {"data":{"name":"trD"},"transform":[{"fold":["Pre","DAB"],"as":["s","v"]}],
    "mark":{"type":"line","strokeWidth":1.3},
    "encoding":{"x":{"field":"t","type":"quantitative","scale":{"domain":[-80,901],"nice":false,"zero":false},"axis":null},"y":{"field":"v","type":"quantitative","scale":{"domain":[-5.9,2.87],"nice":false,"zero":false},"axis":null},"color":{"field":"s","type":"nominal","scale":{"domain":["Pre","DAB"],"range":["#1a1a1a","#b3141c"]},"legend":null}}},
   {"data":{"values":[{"t":137,"t2":167,"y1":2.25,"y2":2.55},{"t":386,"t2":416,"y1":2.25,"y2":2.55},{"t":647,"t2":679,"y1":2.25,"y2":2.55},{"t":160,"t2":190,"y1":-2.42,"y2":-2.12},{"t":388,"t2":418,"y1":-2.42,"y2":-2.12},{"t":594,"t2":623,"y1":-2.42,"y2":-2.12}]},
    "mark":{"type":"rect","color":"#1f78c8"},
    "encoding":{"x":{"field":"t","type":"quantitative"},"x2":{"field":"t2"},"y":{"field":"y1","type":"quantitative"},"y2":{"field":"y2"}}},
   {"data":{"values":[{"t":810,"t2":810,"y1":0.93,"y2":-1.08},{"t":810,"t2":810,"y1":-3.62,"y2":-5.7},{"t":647,"t2":703,"y1":-6.45,"y2":-6.45}]},
    "mark":{"type":"rule","color":"#222","strokeWidth":1.2},
    "encoding":{"x":{"field":"t","type":"quantitative"},"x2":{"field":"t2"},"y":{"field":"y1","type":"quantitative"},"y2":{"field":"y2"}}},
   {"data":{"values":[{"t":-69,"y":1.8,"label":"Pre"},{"t":-80,"y":-2.8,"label":"DAB"}]},
    "mark":{"type":"text","align":"left","baseline":"middle","fontSize":13,"color":"#111"},
    "encoding":{"x":{"field":"t","type":"quantitative"},"y":{"field":"y","type":"quantitative"},"text":{"field":"label"}}},
   {"data":{"values":[{"t":686,"y":-7.25,"label":"60 sec"}]},
    "mark":{"type":"text","align":"center","baseline":"middle","fontSize":13,"color":"#111"},
    "encoding":{"x":{"field":"t","type":"quantitative"},"y":{"field":"y","type":"quantitative"},"text":{"field":"label"}}},
   {"data":{"values":[{"t":863,"y":0.13,"label":"2% ΔR/R"},{"t":863,"y":-5.06,"label":"2% ΔR/R"}]},
    "mark":{"type":"text","align":"center","baseline":"middle","angle":270,"fontSize":13,"color":"#111"},
    "encoding":{"x":{"field":"t","type":"quantitative"},"y":{"field":"y","type":"quantitative"},"text":{"field":"label"}}}
  ]},
 {"title":{"text":"E","dx":-45},"width":210,"height":117,"view":{"stroke":"#444","strokeWidth":1},
  "layer":[
   {"data":{"values":[{"t":0,"t2":190,"v":0}]},"mark":{"type":"rule","strokeDash":[4,3],"color":"#333","strokeWidth":1},
    "encoding":{"x":{"field":"t","type":"quantitative","scale":{"domain":[-62,190],"nice":false,"zero":false}},"x2":{"field":"t2"},"y":{"field":"v","type":"quantitative","scale":{"domain":[-1.57,1.68],"nice":false,"zero":false}}}},
   {"data":{"name":"mE"},"mark":{"type":"line","strokeWidth":4,"opacity":0.25,"color":"#111111"},
    "encoding":{"x":{"field":"t","type":"quantitative","scale":{"domain":[-62,190],"nice":false,"zero":false}},"y":{"field":"Pre","type":"quantitative","scale":{"domain":[-1.57,1.68],"nice":false,"zero":false}}}},
   {"data":{"name":"mE"},"mark":{"type":"line","strokeWidth":4,"opacity":0.25,"color":"#c01820"},
    "encoding":{"x":{"field":"t","type":"quantitative","scale":{"domain":[-62,190],"nice":false,"zero":false}},"y":{"field":"DAB","type":"quantitative","scale":{"domain":[-1.57,1.68],"nice":false,"zero":false}}}},
   {"data":{"name":"mE"},"transform":[{"fold":["Pre","DAB"],"as":["s","v"]}],"mark":{"type":"line","strokeWidth":1.2},
    "encoding":{"x":{"field":"t","type":"quantitative","scale":{"domain":[-62,190],"nice":false,"zero":false},"axis":{"title":"Time(sec)","values":[-60,-30,0,30,60,90,120,150,180],"tickCount":12,"labelExpr":"datum.value % 60 == 0 ? replace(format(datum.value,'d'),'−','-') : ''","tickSize":-3,"domain":false,"labelPadding":3,"titlePadding":0,"labelFlush":false,"labelOverlap":false}},
     "y":{"field":"v","type":"quantitative","scale":{"domain":[-1.57,1.68],"nice":false,"zero":false},"axis":{"title":["Thy1-ATeam","(ΔR/R (%))"],"values":[-1.5,0,1.5],"tickCount":5,"labelExpr":"datum.value == 0 ? '0' : replace(format(datum.value,'.1f'),'−','-')","tickSize":-3,"domain":false,"labelPadding":3,"titlePadding":4,"titleLineHeight":14,"labelOverlap":false}},
     "color":{"field":"s","type":"nominal","scale":{"domain":["Pre","DAB"],"range":["#111111","#c01820"]},"legend":{"orient":"top-right","offset":4,"title":null,"symbolType":"stroke","symbolStrokeWidth":2,"symbolSize":160,"symbolOpacity":1,"labelFontSize":13,"labelFont":"Liberation Sans","labelColor":"#111","rowPadding":3,"padding":0,"labelOffset":4}}}},
   {"data":{"values":[{"t":0}]},"mark":{"type":"rule","color":"#1f78c8","strokeWidth":3.5},"encoding":{"x":{"field":"t","type":"quantitative"}}},
   {"data":{"values":[{"t":32}]},"mark":{"type":"rule","color":"#e8b420","strokeWidth":3.5},"encoding":{"x":{"field":"t","type":"quantitative"}}}
  ]},
 {"title":{"text":"F","dx":-50},"width":57,"height":117,
  "layer":[
   {"data":{"values":[{"g":"DAB","m":0.93}]},"mark":{"type":"bar","color":"#b0161e","stroke":"#3a0a0a","strokeWidth":0.8,"size":19},
    "encoding":{"x":{"field":"g","type":"nominal","axis":{"title":null,"ticks":false,"labelPadding":7,"labelAngle":0}},"y":{"field":"m","type":"quantitative","scale":{"domain":[0,1.3],"nice":false},"axis":{"title":["AUC","(relative to Pre)"],"values":[0,0.2,0.4,0.6,0.8,1.0,1.2],"tickCount":10,"labelExpr":"datum.value == 0 ? '0' : format(datum.value,'.1f')","labelOverlap":false,"labelBound":false,"tickSize":4,"labelPadding":2,"titlePadding":4,"titleLineHeight":14}}}},
   {"data":{"values":[{"g":"DAB","r":1}]},"mark":{"type":"rule","color":"#555","strokeWidth":1},"encoding":{"y":{"field":"r","type":"quantitative"}}},
   {"data":{"values":[{"g":"DAB","val":1.24},{"g":"DAB","val":0.98},{"g":"DAB","val":0.8},{"g":"DAB","val":0.68}]},"mark":{"type":"circle","size":22,"color":"#9a9a9a","opacity":1,"xOffset":-6},"encoding":{"x":{"field":"g","type":"nominal"},"y":{"field":"val","type":"quantitative"}}},
   {"data":{"values":[{"g":"DAB","lo":0.83,"hi":1.02}]},"mark":{"type":"rule","color":"#333","strokeWidth":1},"encoding":{"x":{"field":"g","type":"nominal"},"y":{"field":"lo","type":"quantitative"},"y2":{"field":"hi"}}},
   {"data":{"values":[{"g":"DAB","e":0.83},{"g":"DAB","e":1.02}]},"mark":{"type":"tick","color":"#333","size":5,"thickness":1},"encoding":{"x":{"field":"g","type":"nominal"},"y":{"field":"e","type":"quantitative"}}}
  ]},
 {"title":{"text":" "},"width":57,"height":117,
  "layer":[
   {"data":{"values":[{"g":"DAB","m":0.82}]},"mark":{"type":"bar","color":"#b0161e","stroke":"#3a0a0a","strokeWidth":0.8,"size":19},
    "encoding":{"x":{"field":"g","type":"nominal","axis":{"title":null,"ticks":false,"labelPadding":7,"labelAngle":0}},"y":{"field":"m","type":"quantitative","scale":{"domain":[0,1.3],"nice":false},"axis":{"title":["Peak value","(relative to Pre)"],"values":[0,0.2,0.4,0.6,0.8,1.0,1.2],"tickCount":10,"labelExpr":"datum.value == 0 ? '0' : format(datum.value,'.1f')","labelOverlap":false,"labelBound":false,"tickSize":4,"labelPadding":2,"titlePadding":4,"titleLineHeight":14}}}},
   {"data":{"values":[{"g":"DAB","r":1}]},"mark":{"type":"rule","color":"#555","strokeWidth":1},"encoding":{"y":{"field":"r","type":"quantitative"}}},
   {"data":{"values":[{"g":"DAB","val":0.96},{"g":"DAB","val":0.79},{"g":"DAB","val":0.73},{"g":"DAB","val":0.705}]},"mark":{"type":"circle","size":22,"color":"#9a9a9a","opacity":1,"xOffset":-6},"encoding":{"x":{"field":"g","type":"nominal"},"y":{"field":"val","type":"quantitative"}}},
   {"data":{"values":[{"g":"DAB","lo":0.76,"hi":0.88}]},"mark":{"type":"rule","color":"#333","strokeWidth":1},"encoding":{"x":{"field":"g","type":"nominal"},"y":{"field":"lo","type":"quantitative"},"y2":{"field":"hi"}}},
   {"data":{"values":[{"g":"DAB","e":0.76},{"g":"DAB","e":0.88}]},"mark":{"type":"tick","color":"#333","size":5,"thickness":1},"encoding":{"x":{"field":"g","type":"nominal"},"y":{"field":"e","type":"quantitative"}}},
   {"data":{"values":[{"g":"DAB","star":1.23}]},"mark":{"type":"text","text":"*","fontSize":17,"align":"center","baseline":"middle","color":"#111"},"encoding":{"x":{"field":"g","type":"nominal"},"y":{"field":"star","type":"quantitative"}}}
  ]}
 ],"spacing":3,"resolve":{"scale":{"color":"independent"},"legend":{"color":"independent"}}},
{"hconcat":[
 {"title":{"text":"G","dx":3},"width":234,"height":117,
  "resolve":{"scale":{"color":"independent"}},
  "layer":[
   {"data":{"values":[{"s":"Pre","t":64,"y1":0.8,"y2":-2.0},{"s":"Pre","t":99,"y1":0.3,"y2":2.8},{"s":"Pre","t":349,"y1":0.3,"y2":-2.0},{"s":"Pre","t":381,"y1":0.3,"y2":2.8},{"s":"Pre","t":623,"y1":0.5,"y2":-2.0},{"s":"Pre","t":657,"y1":-0.3,"y2":2.8},{"s":"L-lac","t":77,"y1":-5.3,"y2":-10.18},{"s":"L-lac","t":68,"y1":-5.0,"y2":-3.74},{"s":"L-lac","t":346,"y1":-5.8,"y2":-10.18},{"s":"L-lac","t":350,"y1":-4.6,"y2":-3.74},{"s":"L-lac","t":636,"y1":-5.4,"y2":-10.18},{"s":"L-lac","t":664,"y1":-7.3,"y2":-3.74}]},
    "mark":{"type":"rule","strokeWidth":1},
    "encoding":{"x":{"field":"t","type":"quantitative","scale":{"domain":[-80,901],"nice":false,"zero":false},"axis":null},"y":{"field":"y1","type":"quantitative","scale":{"domain":[-8.94,3.82],"nice":false,"zero":false},"axis":null},"y2":{"field":"y2"},"color":{"field":"s","type":"nominal","scale":{"domain":["Pre","L-lac"],"range":["#8a8a8a","#d24a52"]},"legend":null}}},
   {"data":{"name":"trG"},"transform":[{"fold":["Pre","L-lac"],"as":["s","v"]}],
    "mark":{"type":"line","strokeWidth":1.3},
    "encoding":{"x":{"field":"t","type":"quantitative","scale":{"domain":[-80,901],"nice":false,"zero":false},"axis":null},"y":{"field":"v","type":"quantitative","scale":{"domain":[-8.94,3.82],"nice":false,"zero":false},"axis":null},"color":{"field":"s","type":"nominal","scale":{"domain":["Pre","L-lac"],"range":["#1a1a1a","#b3141c"]},"legend":null}}},
   {"data":{"values":[{"t":70,"t2":100,"y1":2.8,"y2":3.16},{"t":351,"t2":381,"y1":2.8,"y2":3.16},{"t":626,"t2":657,"y1":2.8,"y2":3.16},{"t":39,"t2":68,"y1":-3.74,"y2":-3.38},{"t":346,"t2":376,"y1":-3.74,"y2":-3.38},{"t":636,"t2":664,"y1":-3.74,"y2":-3.38}]},
    "mark":{"type":"rect","color":"#1f78c8"},
    "encoding":{"x":{"field":"t","type":"quantitative"},"x2":{"field":"t2"},"y":{"field":"y1","type":"quantitative"},"y2":{"field":"y2"}}},
   {"data":{"values":[{"t":810,"t2":810,"y1":0.91,"y2":-1.09},{"t":810,"t2":810,"y1":-5.2,"y2":-7.27},{"t":644,"t2":703,"y1":-9.38,"y2":-9.38}]},
    "mark":{"type":"rule","color":"#222","strokeWidth":1.2},
    "encoding":{"x":{"field":"t","type":"quantitative"},"x2":{"field":"t2"},"y":{"field":"y1","type":"quantitative"},"y2":{"field":"y2"}}},
   {"data":{"values":[{"t":-69,"y":1.93,"label":"Pre"},{"t":-80,"y":-4.0,"label":"L-lac"}]},
    "mark":{"type":"text","align":"left","baseline":"middle","fontSize":13,"color":"#111"},
    "encoding":{"x":{"field":"t","type":"quantitative"},"y":{"field":"y","type":"quantitative"},"text":{"field":"label"}}},
   {"data":{"values":[{"t":686,"y":-11.64,"label":"60 sec"}]},
    "mark":{"type":"text","align":"center","baseline":"middle","fontSize":13,"color":"#111"},
    "encoding":{"x":{"field":"t","type":"quantitative"},"y":{"field":"y","type":"quantitative"},"text":{"field":"label"}}},
   {"data":{"values":[{"t":863,"y":0.46,"label":"2% ΔR/R"},{"t":863,"y":-7.18,"label":"2% ΔR/R"}]},
    "mark":{"type":"text","align":"center","baseline":"middle","angle":270,"fontSize":13,"color":"#111"},
    "encoding":{"x":{"field":"t","type":"quantitative"},"y":{"field":"y","type":"quantitative"},"text":{"field":"label"}}}
  ]},
 {"title":{"text":"H","dx":-45},"width":210,"height":117,"view":{"stroke":"#444","strokeWidth":1},
  "layer":[
   {"data":{"values":[{"t":0,"t2":190,"v":0}]},"mark":{"type":"rule","strokeDash":[4,3],"color":"#333","strokeWidth":1},
    "encoding":{"x":{"field":"t","type":"quantitative","scale":{"domain":[-62,190],"nice":false,"zero":false}},"x2":{"field":"t2"},"y":{"field":"v","type":"quantitative","scale":{"domain":[-1.57,1.68],"nice":false,"zero":false}}}},
   {"data":{"name":"mH"},"mark":{"type":"line","strokeWidth":4,"opacity":0.25,"color":"#111111"},
    "encoding":{"x":{"field":"t","type":"quantitative","scale":{"domain":[-62,190],"nice":false,"zero":false}},"y":{"field":"Pre","type":"quantitative","scale":{"domain":[-1.57,1.68],"nice":false,"zero":false}}}},
   {"data":{"name":"mH"},"mark":{"type":"line","strokeWidth":4,"opacity":0.25,"color":"#c01820"},
    "encoding":{"x":{"field":"t","type":"quantitative","scale":{"domain":[-62,190],"nice":false,"zero":false}},"y":{"field":"L-lactate","type":"quantitative","scale":{"domain":[-1.57,1.68],"nice":false,"zero":false}}}},
   {"data":{"name":"mH"},"transform":[{"fold":["Pre","L-lactate"],"as":["s","v"]}],"mark":{"type":"line","strokeWidth":1.2},
    "encoding":{"x":{"field":"t","type":"quantitative","scale":{"domain":[-62,190],"nice":false,"zero":false},"axis":{"title":"Time(sec)","values":[-60,-30,0,30,60,90,120,150,180],"tickCount":12,"labelExpr":"datum.value % 60 == 0 ? replace(format(datum.value,'d'),'−','-') : ''","tickSize":-3,"domain":false,"labelPadding":3,"titlePadding":0,"labelFlush":false,"labelOverlap":false}},
     "y":{"field":"v","type":"quantitative","scale":{"domain":[-1.57,1.68],"nice":false,"zero":false},"axis":{"title":["Thy1-ATeam","(ΔR/R (%))"],"values":[-1.5,0,1.5],"tickCount":5,"labelExpr":"datum.value == 0 ? '0' : replace(format(datum.value,'.1f'),'−','-')","tickSize":-3,"domain":false,"labelPadding":3,"titlePadding":4,"titleLineHeight":14,"labelOverlap":false}},
     "color":{"field":"s","type":"nominal","scale":{"domain":["Pre","L-lactate"],"range":["#111111","#c01820"]},"legend":{"orient":"top-right","offset":4,"title":null,"symbolType":"stroke","symbolStrokeWidth":2,"symbolSize":160,"symbolOpacity":1,"labelFontSize":13,"labelFont":"Liberation Sans","labelColor":"#111","rowPadding":3,"padding":0,"labelOffset":4}}}},
   {"data":{"values":[{"t":0}]},"mark":{"type":"rule","color":"#1f78c8","strokeWidth":3.5},"encoding":{"x":{"field":"t","type":"quantitative"}}},
   {"data":{"values":[{"t":32}]},"mark":{"type":"rule","color":"#e8b420","strokeWidth":3.5},"encoding":{"x":{"field":"t","type":"quantitative"}}}
  ]},
 {"title":{"text":"I","dx":-50},"width":57,"height":117,
  "layer":[
   {"data":{"values":[{"g":"L-lac","m":1.23}]},"mark":{"type":"bar","color":"#b0161e","stroke":"#3a0a0a","strokeWidth":0.8,"size":19},
    "encoding":{"x":{"field":"g","type":"nominal","axis":{"title":null,"ticks":false,"labelPadding":7,"labelAngle":0}},"y":{"field":"m","type":"quantitative","scale":{"domain":[0,2.2],"nice":false},"axis":{"title":["AUC","(relative to Pre)"],"values":[0,0.4,0.8,1.2,1.6,2.0],"tickCount":10,"labelExpr":"datum.value == 0 ? '0' : format(datum.value,'.1f')","labelOverlap":false,"labelBound":false,"tickSize":4,"labelPadding":2,"titlePadding":4,"titleLineHeight":14}}}},
   {"data":{"values":[{"g":"L-lac","r":1}]},"mark":{"type":"rule","color":"#555","strokeWidth":1},"encoding":{"y":{"field":"r","type":"quantitative"}}},
   {"data":{"values":[{"g":"L-lac","val":2.0},{"g":"L-lac","val":1.21},{"g":"L-lac","val":1.0},{"g":"L-lac","val":0.9}]},"mark":{"type":"circle","size":22,"color":"#9a9a9a","opacity":1,"xOffset":-6},"encoding":{"x":{"field":"g","type":"nominal"},"y":{"field":"val","type":"quantitative"}}},
   {"data":{"values":[{"g":"L-lac","lo":1.01,"hi":1.41}]},"mark":{"type":"rule","color":"#333","strokeWidth":1},"encoding":{"x":{"field":"g","type":"nominal"},"y":{"field":"lo","type":"quantitative"},"y2":{"field":"hi"}}},
   {"data":{"values":[{"g":"L-lac","e":1.01},{"g":"L-lac","e":1.41}]},"mark":{"type":"tick","color":"#333","size":5,"thickness":1},"encoding":{"x":{"field":"g","type":"nominal"},"y":{"field":"e","type":"quantitative"}}}
  ]},
 {"title":{"text":" "},"width":57,"height":117,
  "layer":[
   {"data":{"values":[{"g":"L-lac","m":1.2}]},"mark":{"type":"bar","color":"#b0161e","stroke":"#3a0a0a","strokeWidth":0.8,"size":19},
    "encoding":{"x":{"field":"g","type":"nominal","axis":{"title":null,"ticks":false,"labelPadding":7,"labelAngle":0}},"y":{"field":"m","type":"quantitative","scale":{"domain":[0,2.2],"nice":false},"axis":{"title":["Peak value","(relative to Pre)"],"values":[0,0.4,0.8,1.2,1.6,2.0],"tickCount":10,"labelExpr":"datum.value == 0 ? '0' : format(datum.value,'.1f')","labelOverlap":false,"labelBound":false,"tickSize":4,"labelPadding":2,"titlePadding":4,"titleLineHeight":14}}}},
   {"data":{"values":[{"g":"L-lac","r":1}]},"mark":{"type":"rule","color":"#555","strokeWidth":1},"encoding":{"y":{"field":"r","type":"quantitative"}}},
   {"data":{"values":[{"g":"L-lac","val":1.8},{"g":"L-lac","val":1.18},{"g":"L-lac","val":1.03},{"g":"L-lac","val":1.0}]},"mark":{"type":"circle","size":22,"color":"#9a9a9a","opacity":1,"xOffset":-6},"encoding":{"x":{"field":"g","type":"nominal"},"y":{"field":"val","type":"quantitative"}}},
   {"data":{"values":[{"g":"L-lac","lo":1.04,"hi":1.36}]},"mark":{"type":"rule","color":"#333","strokeWidth":1},"encoding":{"x":{"field":"g","type":"nominal"},"y":{"field":"lo","type":"quantitative"},"y2":{"field":"hi"}}},
   {"data":{"values":[{"g":"L-lac","e":1.04},{"g":"L-lac","e":1.36}]},"mark":{"type":"tick","color":"#333","size":5,"thickness":1},"encoding":{"x":{"field":"g","type":"nominal"},"y":{"field":"e","type":"quantitative"}}},
   {"data":{"values":[{"g":"L-lac","star":2.11}]},"mark":{"type":"text","text":"*","fontSize":17,"align":"center","baseline":"middle","color":"#111"},"encoding":{"x":{"field":"g","type":"nominal"},"y":{"field":"star","type":"quantitative"}}}
  ]}
 ],"spacing":3,"resolve":{"scale":{"color":"independent"},"legend":{"color":"independent"}}}
]
}
